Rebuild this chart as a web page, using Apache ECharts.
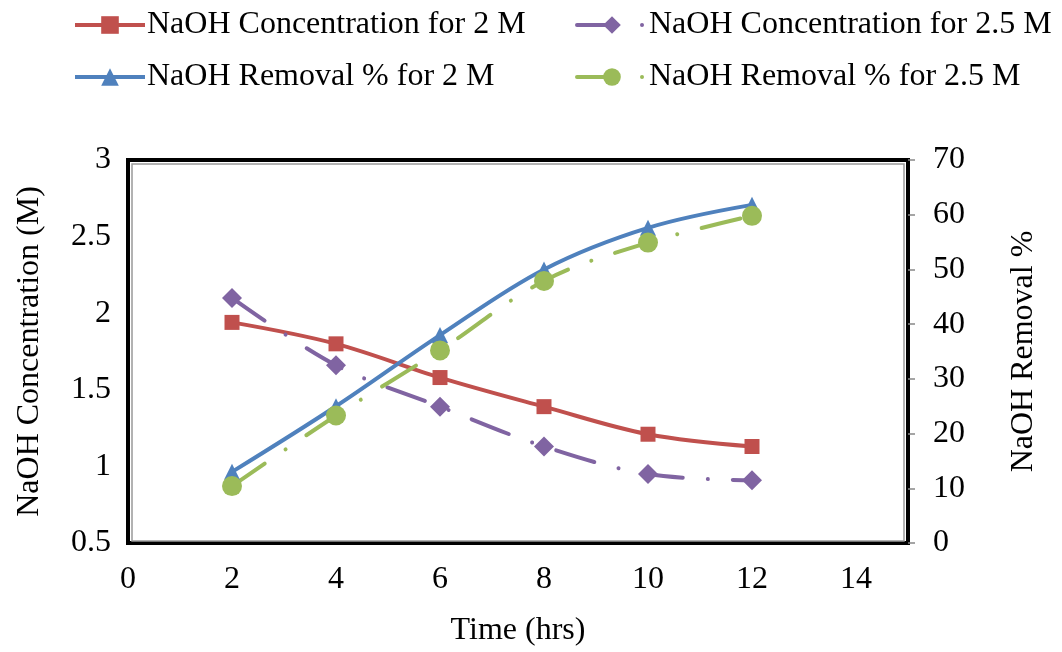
<!DOCTYPE html>
<html>
<head>
    <meta charset="UTF-8">
    <title>NaOH Concentration and Removal</title>
    <script src="https://cdn.jsdelivr.net/npm/echarts@6/dist/echarts.min.js"></script>
    <style>
        body { margin: 0; background: #fff; }
    </style>
</head>
<body>
    <div id="chart" style="width:1062px; height:652px;"></div>
    <script>
        // data
        var timeHrs = [2, 4, 6, 8, 10, 12];
        var conc2M = [1.94, 1.80, 1.58, 1.39, 1.21, 1.13];
        var conc25M = [2.10, 1.66, 1.39, 1.13, 0.95, 0.91];
        var removal2M = [13, 25, 38, 50, 57.6, 61.8];
        var removal25M = [10.4, 23.3, 35.2, 47.9, 54.9, 59.8];

        var font = "'Liberation Serif', 'Times New Roman', serif";
        var fs = 32;
        var dashDot = [40, 25, 0.01, 25];

        function pairs(ys) {
            return timeHrs.map(function (x, i) { return [x, ys[i]]; });
        }

        var chart = echarts.init(document.getElementById('chart'), null, {renderer: 'canvas'});

        function legendAt(name, left, top) {
            return {
                data: [name],
                left: left,
                top: top,
                itemWidth: 70,
                itemHeight: 22,
                itemGap: 0,
                lineStyle: {width: 4},
                textStyle: {fontFamily: font, fontSize: fs, color: '#000', padding: [0, 0, 0, -3]}
            };
        }

        var option = {
            animation: false,
            textStyle: {fontFamily: font},
            legend: [
                legendAt('NaOH Concentration for 2 M', 68, 4),
                legendAt('NaOH Concentration for 2.5 M', 570, 4),
                legendAt('NaOH Removal % for 2 M', 68, 56),
                legendAt('NaOH Removal % for 2.5 M', 570, 56)
            ],
            grid: [{
                left: 128, right: 154, top: 160, bottom: 107,
                show: true,
                borderColor: '#000',
                borderWidth: 4
            }, {
                // inner grey line of the frame
                left: 132, right: 158, top: 164, bottom: 111,
                show: true,
                borderColor: '#999',
                borderWidth: 1.5
            }],
            xAxis: {
                type: 'value',
                min: 0, max: 15, interval: 2,
                name: 'Time (hrs)',
                nameLocation: 'middle',
                nameGap: 72,
                nameTextStyle: {fontFamily: font, fontSize: fs, color: '#000'},
                axisLine: {show: false},
                axisTick: {show: false},
                splitLine: {show: false},
                axisLabel: {
                    fontFamily: font, fontSize: fs, color: '#000', margin: 21,
                    formatter: function (v) { return v % 2 === 0 ? String(v) : ''; }
                }
            },
            yAxis: [{
                type: 'value',
                min: 0.5, max: 3, interval: 0.5,
                name: 'NaOH Concentration (M)',
                nameLocation: 'middle',
                nameGap: 82,
                nameTextStyle: {fontFamily: font, fontSize: fs, color: '#000'},
                axisLine: {show: false},
                axisTick: {show: false},
                splitLine: {show: false},
                axisLabel: {fontFamily: font, fontSize: fs, color: '#000', margin: 17}
            }, {
                type: 'value',
                position: 'right',
                min: 0, max: 70, interval: 10,
                name: 'NaOH Removal %',
                nameLocation: 'middle',
                nameGap: 100,
                nameTextStyle: {fontFamily: font, fontSize: fs, color: '#000'},
                axisLine: {show: false},
                axisTick: {show: true, length: 7, lineStyle: {color: '#888', width: 1.5}},
                splitLine: {show: false},
                axisLabel: {fontFamily: font, fontSize: fs, color: '#000', margin: 25}
            }],
            series: [{
                name: 'NaOH Concentration for 2 M',
                type: 'line',
                smooth: 0.35,
                data: pairs(conc2M),
                symbol: 'rect',
                symbolSize: 15,
                itemStyle: {color: '#c0504d'},
                lineStyle: {color: '#c0504d', width: 4}
            }, {
                name: 'NaOH Concentration for 2.5 M',
                type: 'line',
                smooth: 0.35,
                data: pairs(conc25M),
                symbol: 'diamond',
                symbolSize: 20,
                itemStyle: {color: '#8064a2'},
                lineStyle: {color: '#8064a2', width: 4, type: dashDot, cap: 'round'}
            }, {
                name: 'NaOH Removal % for 2 M',
                type: 'line',
                yAxisIndex: 1,
                smooth: 0.35,
                data: pairs(removal2M),
                symbol: 'triangle',
                symbolSize: 16,
                itemStyle: {color: '#4f81bd'},
                lineStyle: {color: '#4f81bd', width: 4}
            }, {
                name: 'NaOH Removal % for 2.5 M',
                type: 'line',
                yAxisIndex: 1,
                smooth: 0.35,
                data: pairs(removal25M),
                symbol: 'circle',
                symbolSize: 20,
                itemStyle: {color: '#9bbb59'},
                lineStyle: {color: '#9bbb59', width: 4, type: dashDot, cap: 'round'}
            }]
        };

        chart.setOption(option);
    </script>
</body>
</html>
